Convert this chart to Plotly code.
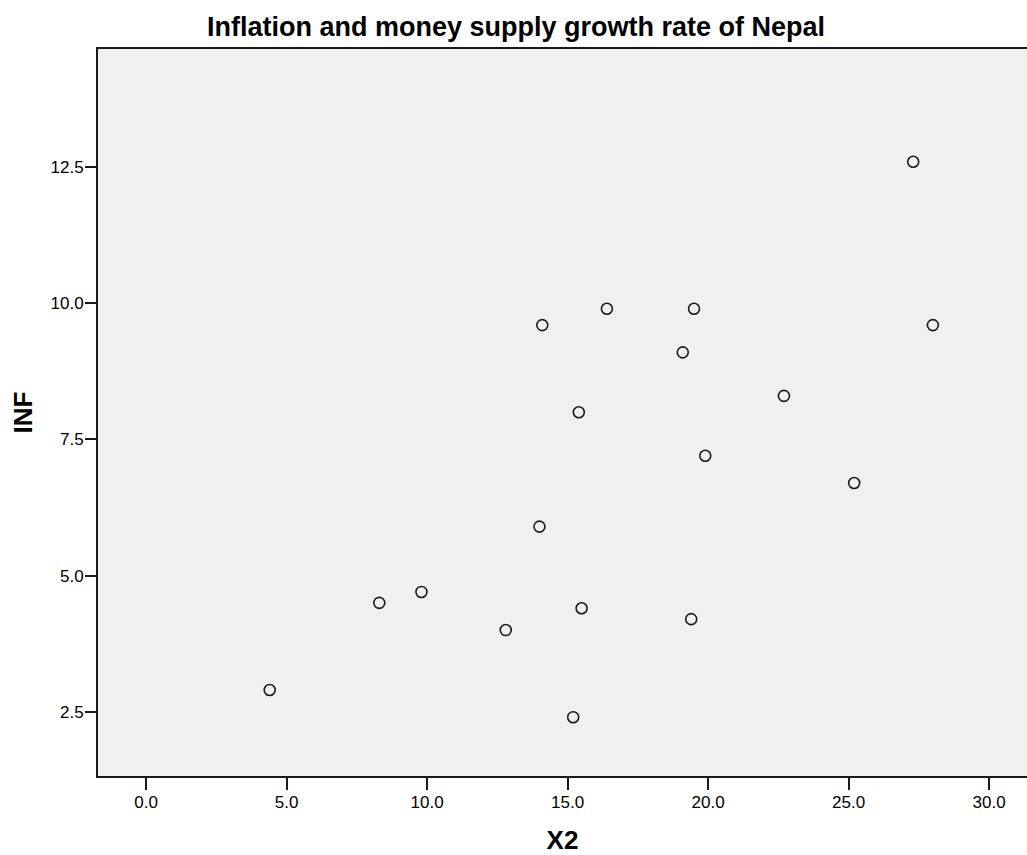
import plotly.graph_objects as go

# Money supply growth (X2) and inflation (INF), Nepal
x2 = [4.4, 8.3, 9.8, 12.8, 14.0, 14.1, 15.2, 15.4, 15.5, 16.4,
      19.1, 19.4, 19.5, 19.9, 22.7, 25.2, 27.3, 28.0]
inf = [2.9, 4.5, 4.7, 4.0, 5.9, 9.6, 2.4, 8.0, 4.4, 9.9,
       9.1, 4.2, 9.9, 7.2, 8.3, 6.7, 12.6, 9.6]

x_ticks = [0, 5, 10, 15, 20, 25, 30]
x_tick_labels = ["0.0", "5.0", "10.0", "15.0", "20.0", "25.0", "30.0"]
y_ticks = [2.5, 5.0, 7.5, 10.0, 12.5]
y_tick_labels = ["2.5", "5.0", "7.5", "10.0", "12.5"]

FONT = "Liberation Sans, Arial, sans-serif"
INK = "#1a1a1a"

fig = go.Figure(
    go.Scatter(
        x=x2, y=inf, mode="markers",
        marker=dict(symbol="circle-open", size=11, color=INK,
                    line=dict(width=1.6, color=INK)),
        hoverinfo="x+y",
    )
)

fig.update_layout(
    width=1027, height=855,
    margin=dict(l=98, r=0, t=49, b=79, autoexpand=False),
    paper_bgcolor="white",
    plot_bgcolor="#f0f0f0",
    showlegend=False,
    font=dict(family=FONT, size=17, color="black"),
    title=dict(
        text="<b>Inflation and money supply growth rate of Nepal</b>",
        font=dict(family=FONT, size=27, color="black"),
        xref="container", x=516 / 1027, xanchor="center",
        yref="container", y=1 - 17 / 855, yanchor="top",
    ),
)

fig.update_xaxes(
    range=[-1.71, 31.35],
    automargin=False,
    tickvals=x_ticks, ticktext=x_tick_labels,
    ticks="outside", ticklen=12, tickwidth=2, tickcolor=INK,
    ticklabelstandoff=-2,
    showline=True, linewidth=2, linecolor=INK, mirror=True,
    showgrid=False, zeroline=False,
    tickfont=dict(size=17, color="black"),
    title=dict(text="<b>X2</b>", font=dict(size=26, color="black"), standoff=30),
)

fig.update_yaxes(
    range=[1.32, 14.67],
    automargin=False,
    tickvals=y_ticks, ticktext=y_tick_labels,
    ticks="outside", ticklen=11, tickwidth=2, tickcolor=INK,
    ticklabelstandoff=-2,
    showline=True, linewidth=2, linecolor=INK, mirror=False,
    showgrid=False, zeroline=False,
    tickfont=dict(size=17, color="black"),
    title=dict(text="<b>INF</b>", font=dict(size=26, color="black"), standoff=10),
)

fig.write_html("out.html")
